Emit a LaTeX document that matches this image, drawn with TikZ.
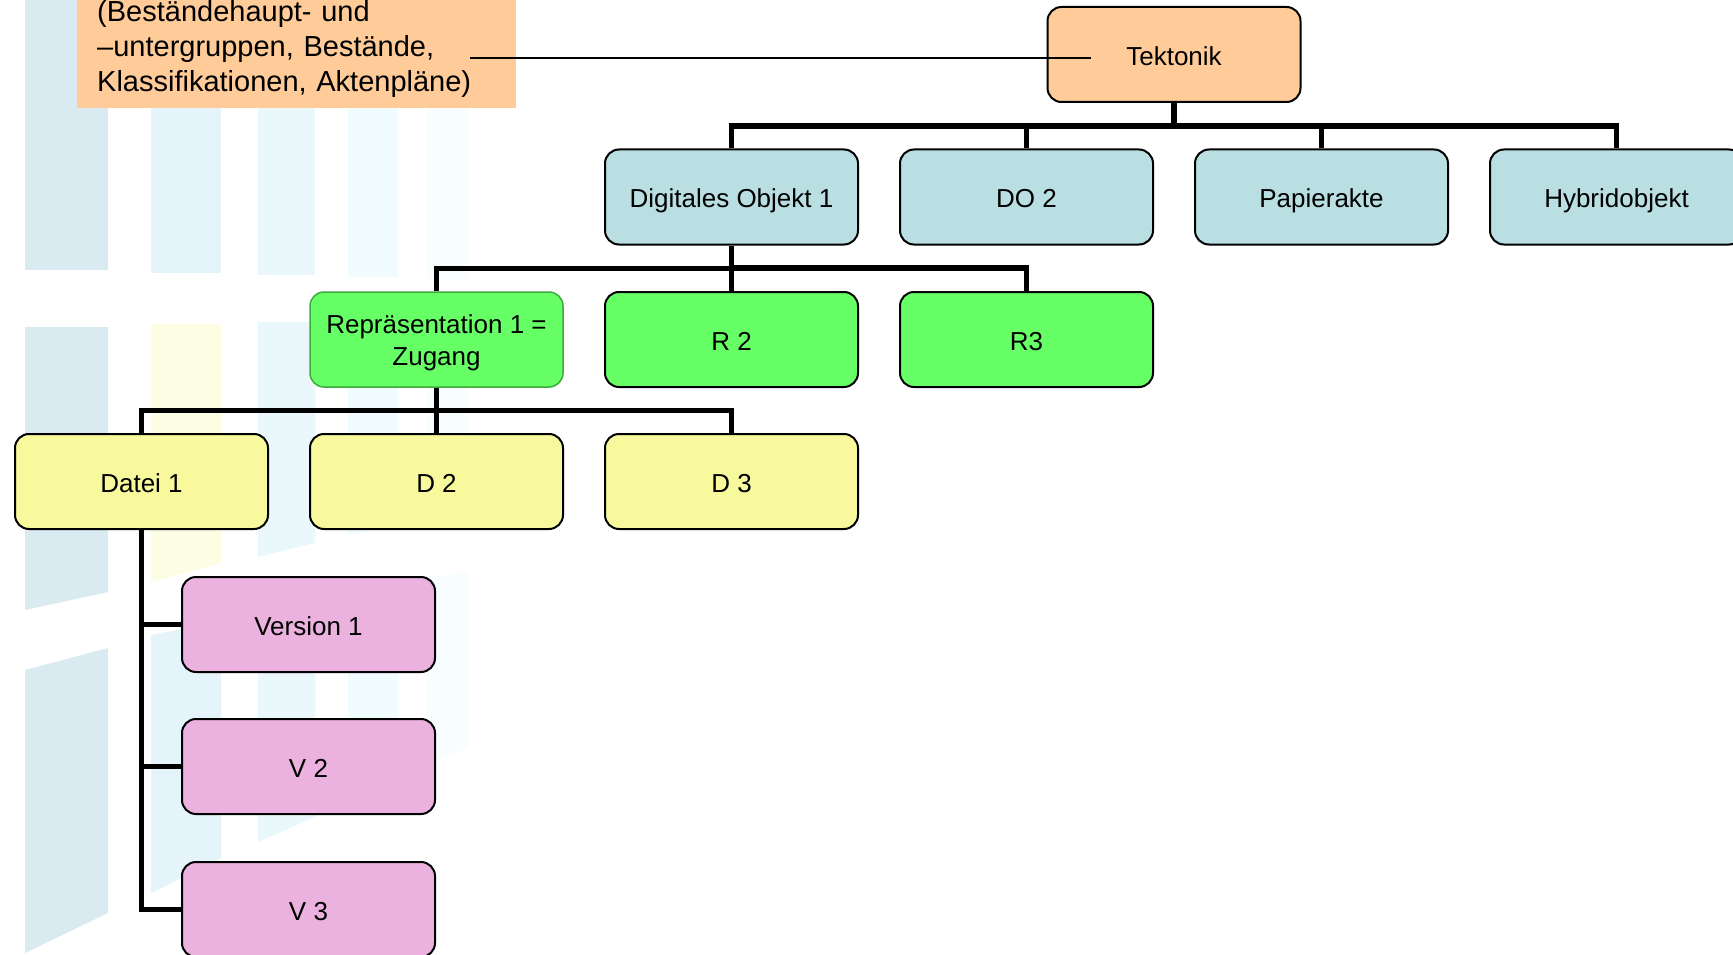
\documentclass[tikz,border=0pt]{standalone}
\usepackage{fontspec}
\setmainfont{Liberation Sans}
\usetikzlibrary{calc}
\definecolor{peach}{HTML}{FFCC99}
\definecolor{teal}{HTML}{B9DFE2}
\definecolor{lgreen}{HTML}{66FF66}
\definecolor{dgreen}{HTML}{3CAA3C}
\definecolor{lyellow}{HTML}{F7F99C}
\definecolor{lpink}{HTML}{EBB1DF}
\definecolor{bgA}{HTML}{DAEAF1}
\definecolor{bgB}{HTML}{E4F4FA}
\definecolor{bgY}{HTML}{FDFDE4}
\definecolor{bgC}{HTML}{EAF8FC}
\definecolor{bgD}{HTML}{F0FCFE}
\definecolor{bgE}{HTML}{F8FEFF}
\begin{document}
\begin{tikzpicture}[x=1pt,y=-1pt,
  boxbase/.style={draw=black, line width=2pt, rounded corners=14pt,
    minimum width=253pt, minimum height=95pt, inner sep=0pt,
    font=\fontsize{26}{32}\selectfont},
  onebox/.style={boxbase, text height=21.4pt, text depth=0pt},
  tekbox/.style={onebox, fill=peach},
  dobox/.style={onebox, fill=teal},
  rbox/.style={onebox, fill=lgreen},
  dbox/.style={onebox, fill=lyellow},
  vbox/.style={onebox, fill=lpink},
  conn/.style={line width=5.7pt},
  thin/.style={line width=1.5pt}]
\useasboundingbox (0,0) rectangle (1733,955);
\clip (0,0) rectangle (1733,955);
\fill[white] (0,0) rectangle (1733,955);
% background stripes, tier 1
\fill[bgA] (25,0) rectangle (108,270);
\fill[bgB] (151,0) rectangle (221,273);
\fill[bgC] (258,0) rectangle (315,275);
\fill[bgD] (348,0) rectangle (398,277);
\fill[bgE] (427,0) rectangle (468,279);
% tier 2
\fill[bgA] (25,327) -- (108,327) -- (108,592) -- (25,610) -- cycle;
\fill[bgY] (151,324) -- (221,324) -- (221,563) -- (151,582) -- cycle;
\fill[bgC] (258,322) -- (315,322) -- (315,543) -- (258,557) -- cycle;
\fill[bgD] (348,320) -- (398,320) -- (398,525) -- (348,535) -- cycle;
\fill[bgE] (427,318) -- (468,318) -- (468,510) -- (427,518) -- cycle;
% tier 3
\fill[bgA] (25,670) -- (108,648) -- (108,913) -- (25,953) -- cycle;
\fill[bgB] (151,635) -- (221,622) -- (221,858) -- (151,893) -- cycle;
\fill[bgC] (258,610) -- (315,600) -- (315,817) -- (258,842) -- cycle;
\fill[bgD] (348,593) -- (398,586) -- (398,783) -- (348,800) -- cycle;
\fill[bgE] (427,578) -- (468,572) -- (468,748) -- (427,762) -- cycle;

% label box
\node[fill=peach, anchor=south west, inner xsep=20pt, inner ysep=10pt,
  text width=399pt, align=left, font=\fontsize{29}{35}\selectfont]
  (lab) at (77,108) {(Beständehaupt- und\\–untergruppen, Bestände,\\Klassifikationen, Aktenpläne)};

% nodes
\node[tekbox] (tek) at (1174,54.5) {Tektonik\hspace{6pt}};
\node[dobox] (do1) at (731.5,197) {Digitales Objekt 1};
\node[dobox] (do2) at (1026.5,197) {DO 2};
\node[dobox] (pap) at (1321.5,197) {Papierakte};
\node[dobox] (hyb) at (1616.5,197) {Hybridobjekt};
\node[boxbase, fill=lgreen, draw=dgreen, line width=1.5pt, align=center] (rep) at (436.5,339.5) {\rule{0pt}{25.5pt}Repräsentation 1 =\\Zugang};
\node[rbox] (r2) at (731.5,339.5) {R 2};
\node[rbox] (r3) at (1026.5,339.5) {R3};
\node[dbox] (d1) at (141.5,481.5) {Datei 1};
\node[dbox] (d2) at (436.5,481.5) {D 2};
\node[dbox] (d3) at (731.5,481.5) {D 3};
\node[vbox] (v1) at (308.5,624.5) {Version 1};
\node[vbox] (v2) at (308.5,766.5) {V 2};
\node[vbox] (v3) at (308.5,909.5) {V 3};

% connectors
\foreach \c in {do1,do2,pap,hyb}
  \draw[conn] (tek.south) |- ($(tek.south)!.5!(\c.north)$) -| (\c.north);
\foreach \c in {rep,r2,r3}
  \draw[conn] (do1.south) |- ($(do1.south)!.5!(\c.north)$) -| (\c.north);
\foreach \c in {d1,d2,d3}
  \draw[conn] (rep.south) |- ($(rep.south)!.5!(\c.north)$) -| (\c.north);
\foreach \c in {v1,v2,v3}
  \draw[conn] (d1.south) |- (\c.west);

% thin line from label to Tektonik
\coordinate (ls) at (470,58);
\coordinate (le) at (1091,58);
\draw[thin] (ls) -- (le);
\end{tikzpicture}
\end{document}
